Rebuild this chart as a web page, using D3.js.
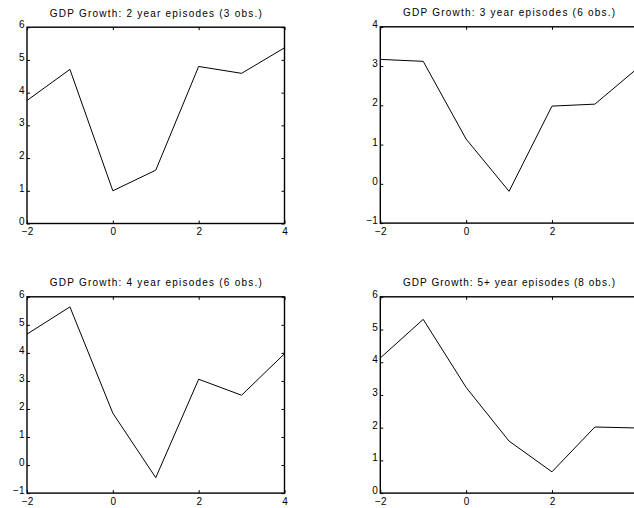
<!DOCTYPE html>
<html>
<head>
<meta charset="utf-8">
<script src="https://cdn.jsdelivr.net/npm/d3@7"></script>
<style>
    body { margin: 0; background: #fff; }
    svg { display: block; }
    text { font-family: "Liberation Sans", Arial, sans-serif; fill: #000; }
</style>
</head>
<body>
<div id="chart"></div>
<script>
// Years relative to the episode
const years = [-2, -1, 0, 1, 2, 3, 4];
const xTicks = [-2, 0, 2, 4];

// Series values
const growth2yr = [3.76, 4.71, 1.0, 1.63, 4.80, 4.59, 5.37];
const growth3yr = [3.17, 3.12, 1.14, -0.19, 1.98, 2.03, 2.95];
const growth4yr = [4.67, 5.64, 1.85, -0.45, 3.06, 2.49, 3.97];
const growth5yr = [4.13, 5.31, 3.23, 1.59, 0.65, 2.02, 1.99];

const titles = [
    "GDP Growth: 2 year episodes (3 obs.)",
    "GDP Growth: 3 year episodes (6 obs.)",
    "GDP Growth: 4 year episodes (6 obs.)",
    "GDP Growth: 5+ year episodes (8 obs.)"
];
const yDomains = [[0, 6], [-1, 4], [-1, 6], [0, 6]];
const series = [growth2yr, growth3yr, growth4yr, growth5yr];

const width = 634, height = 508;
const plotW = 257.5, plotH = 196.3;
const origins = [[27, 27.2], [380.3, 26.8], [27, 296.8], [380.3, 296.8]];

const svg = d3.select("#chart")
    .append("svg")
    .attr("width", width)
    .attr("height", height);

series.forEach((values, i) => {
    const [ox, oy] = origins[i];
    const g = svg.append("g").attr("transform", `translate(${ox},${oy})`);

    const x = d3.scaleLinear().domain([-2, 4]).range([0, plotW]);
    const y = d3.scaleLinear().domain(yDomains[i]).range([plotH, 0]);
    const yTicks = d3.range(yDomains[i][0], yDomains[i][1] + 1);

    // Axes with small inward ticks
    const yAxis = g.append("g")
        .call(d3.axisLeft(y).tickValues(yTicks).tickFormat(d3.format("d"))
            .tickSizeInner(-3).tickSizeOuter(0).tickPadding(2.5));
    yAxis.selectAll("text").attr("dy", "0.05em");

    const yAxisR = g.append("g")
        .attr("transform", `translate(${plotW},0)`)
        .call(d3.axisRight(y).tickValues(yTicks).tickFormat("")
            .tickSizeInner(-3).tickSizeOuter(0));

    const xAxis = g.append("g")
        .attr("transform", `translate(0,${plotH})`)
        .call(d3.axisBottom(x).tickValues(xTicks).tickFormat(d3.format("d"))
            .tickSizeInner(-3).tickSizeOuter(0).tickPadding(4.5));

    const xAxisT = g.append("g")
        .call(d3.axisTop(x).tickValues(xTicks).tickFormat("")
            .tickSizeInner(-3).tickSizeOuter(0));

    [yAxis, yAxisR, xAxis, xAxisT].forEach(a => {
        a.select(".domain").remove();
        a.selectAll("text").style("font-size", "10px").attr("fill", "#000");
        a.selectAll("line").attr("stroke", "#000");
    });

    // Frame
    g.append("rect")
        .attr("x", 0).attr("y", 0)
        .attr("width", plotW).attr("height", plotH)
        .attr("fill", "none")
        .attr("stroke", "#000")
        .attr("stroke-width", 1.4);

    // Line
    const line = d3.line()
        .x((d, j) => x(years[j]))
        .y(d => y(d));

    g.append("path")
        .datum(values)
        .attr("d", line)
        .attr("fill", "none")
        .attr("stroke", "#000")
        .attr("stroke-width", 1);

    // Title
    g.append("text")
        .attr("x", plotW / 2)
        .attr("y", -10.5)
        .attr("text-anchor", "middle")
        .style("font-size", "10px")
        .attr("textLength", 212)
        .attr("lengthAdjust", "spacing")
        .text(titles[i]);
});
</script>
</body>
</html>
